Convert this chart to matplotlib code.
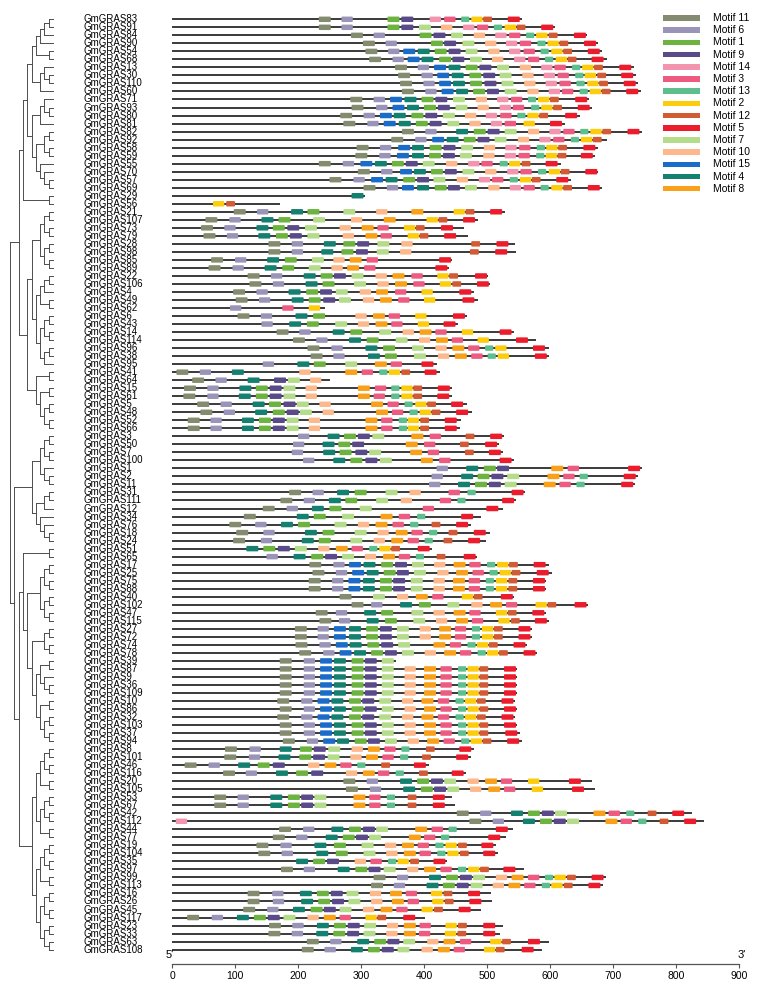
import matplotlib
matplotlib.use('Agg')
import matplotlib.pyplot as plt
from matplotlib.patches import Rectangle, FancyBboxPatch
from matplotlib.transforms import blended_transform_factory

plt.rcParams['font.family'] = ['Liberation Sans', 'DejaVu Sans']

# gene order (top to bottom), protein lengths and motif sites "motif:start"
gene_ids = [83, 91, 84, 90, 54, 68, 13, 30, 110, 60, 71, 93, 80, 81, 82, 92, 58, 59,
            55, 70, 57, 69, 29, 56, 21, 107, 73, 79, 28, 98, 85, 89, 22, 106, 4, 49,
            62, 6, 43, 14, 114, 96, 38, 95, 41, 64, 15, 61, 5, 48, 52, 66, 3, 50, 7,
            100, 1, 2, 11, 31, 111, 12, 34, 76, 18, 24, 51, 65, 17, 25, 75, 88, 40,
            102, 47, 115, 27, 72, 74, 78, 39, 87, 9, 36, 109, 10, 86, 32, 103, 37, 94,
            8, 101, 46, 116, 20, 105, 53, 67, 42, 112, 44, 77, 19, 104, 35, 97, 99,
            113, 16, 26, 45, 117, 23, 33, 63, 108]

lengths = [555, 608, 659, 676, 683, 690, 733, 737, 740, 745, 662, 667, 647, 624, 746,
           691, 676, 672, 617, 676, 634, 682, 306, 171, 528, 485, 464, 470, 545, 546,
           445, 440, 502, 505, 479, 485, 243, 469, 454, 543, 577, 598, 599, 421, 425,
           250, 445, 445, 469, 476, 458, 457, 527, 519, 526, 543, 746, 739, 735, 561,
           546, 526, 490, 475, 505, 498, 412, 484, 599, 603, 593, 593, 543, 660, 593,
           598, 571, 571, 564, 580, 356, 548, 548, 548, 548, 544, 548, 544, 548, 552,
           555, 479, 475, 408, 467, 666, 672, 445, 449, 826, 845, 541, 530, 514, 517,
           436, 558, 689, 684, 506, 508, 491, 402, 526, 520, 598, 587]

sites = [
    "11:233 6:269 1:342 9:364 14:409 3:432 13:459 2:475 12:494 5:533",
    "11:233 6:269 1:342 9:364 7:392 10:427 14:462 3:484 13:511 2:528 12:547 5:586",
    "11:284 6:320 1:393 9:415 7:443 10:479 14:513 3:535 13:562 2:578 12:598 5:638",
    "11:303 6:339 1:411 9:432 7:461 10:497 14:530 3:552 13:580 2:596 12:615 5:654",
    "11:307 6:343 15:367 4:390 1:417 9:439 7:466 10:502 14:535 3:558 13:585 2:602 12:621 5:660",
    "11:313 6:350 15:374 4:396 1:424 9:445 7:473 10:508 14:543 3:565 13:592 2:609 12:628 5:666",
    "11:354 6:390 15:416 4:439 1:466 9:488 7:516 10:552 14:586 3:607 13:635 2:651 12:670 5:710",
    "11:359 6:396 15:421 4:444 1:472 9:494 7:520 10:556 14:590 3:612 13:640 2:655 12:675 5:713",
    "11:362 6:399 15:424 4:446 1:473 9:496 7:523 10:559 14:593 3:615 13:642 2:659 12:678 5:717",
    "11:365 6:402 15:428 4:451 1:478 9:500 7:528 10:564 14:598 3:619 13:647 2:663 12:682 5:721",
    "11:283 6:320 15:346 4:369 1:396 9:418 7:446 10:482 14:516 3:538 13:565 2:581 12:600 5:640",
    "11:285 6:324 15:350 4:373 1:400 9:422 7:450 10:485 14:520 3:541 13:570 2:586 12:605 5:644",
    "11:267 6:304 15:330 4:352 1:380 9:402 7:430 10:465 14:498 3:521 13:548 2:564 12:583 5:624",
    "11:272 6:310 15:336 4:360 1:387 9:409 7:437 10:472 14:506 3:528 2:558 5:600",
    "11:365 6:402 4:451 1:479 9:501 7:528 10:565 14:599 3:621 13:648 2:664 12:683 5:723",
    "11:348 6:386 15:413 4:436 1:463 9:485 7:512 10:549 14:583 3:605 13:633 2:649 12:668",
    "11:293 6:330 15:359 4:381 1:409 9:431 7:459 10:495 14:529 3:551 13:579 2:594 12:613 5:653",
    "11:291 6:329 15:357 4:381 1:408 9:430 7:457 10:494 14:528 3:550 13:578 2:593 12:612 5:649",
    "11:233 6:271 15:299 4:322 1:349 9:371 7:398 10:435 14:470 3:491 13:520 2:535 12:555 5:593",
    "11:295 6:332 15:362 4:384 1:411 9:433 7:461 10:497 14:532 3:553 13:581 2:598 12:617 5:656",
    "11:250 6:288 15:316 4:339 1:367 9:389 7:415 10:452 14:487 3:508 13:536 2:552 12:571 5:610",
    "11:304 6:341 15:365 4:389 1:417 9:438 7:465 10:502 14:536 3:558 13:585 2:602 12:621 5:660",
    "4:285",
    "2:65 12:86",
    "11:98 6:135 4:189 1:215 7:272 10:324 8:380 2:447 12:466 5:505",
    "11:53 6:91 4:142 1:169 7:224 10:284 8:336 2:404 12:423 5:462",
    "11:46 6:83 4:134 1:160 9:183 7:211 10:266 8:301 3:326 2:368 12:387 5:427",
    "11:50 6:87 4:137 1:165 9:187 7:215 10:271 8:307 3:331 2:374 12:393 5:432",
    "11:153 6:190 4:241 1:272 9:294 7:326 10:364 12:475 5:515",
    "11:153 6:190 4:237 1:269 9:292 7:325 10:362 12:473 5:513",
    "11:62 6:100 4:151 1:179 7:222 10:256 8:282 3:309 5:424",
    "11:58 6:96 4:147 1:175 7:217 10:253 8:278 3:305 5:418",
    "11:120 6:157 4:209 1:236 9:257 7:285 10:323 8:350 3:380 2:421 12:440 5:481",
    "11:123 6:160 4:212 1:239 7:289 10:326 8:354 3:383 2:425 12:445 5:484",
    "11:97 6:134 4:185 1:213 9:235 7:260 10:298 8:324 3:354 2:396 5:456",
    "11:101 6:138 4:190 1:217 9:240 7:265 10:303 8:330 3:359 2:400 5:461",
    "6:92 3:175 2:217",
    "11:104 6:141 4:196 1:224 10:291 8:319 3:344 2:386 5:446",
    "6:142 4:186 1:214 7:259 10:295 8:323 3:348 2:390 5:431",
    "11:166 6:202 4:255 1:283 7:329 10:366 8:393 3:418 2:460 5:520",
    "11:192 6:229 4:281 1:309 7:355 10:392 8:419 3:444 2:485 5:546",
    "11:215 6:253 4:307 1:335 7:381 10:418 8:445 3:470 13:497 2:513 5:573",
    "11:220 6:256 4:311 1:338 7:384 10:422 8:449 3:475 13:501 2:517 5:576",
    "6:144 4:199 1:225 7:275 8:322 3:347 5:396",
    "11:7 6:44 4:95 10:202 8:275 3:301 13:329 2:344 12:364 5:401",
    "11:32 6:69 4:120 9:162 7:184 10:219",
    "11:19 6:56 4:107 1:133 9:155 7:177 10:212 8:295 3:322 13:348 2:364 12:383 5:422",
    "11:18 6:56 4:106 1:133 9:155 7:177 10:212 8:295 3:320 13:348 2:364 12:383 5:421",
    "11:40 6:77 4:128 1:154 9:177 7:198 10:234 8:316 3:342 13:369 2:386 12:405 5:443",
    "11:45 6:82 4:132 1:160 9:182 7:203 10:239 8:324 3:349 13:377 2:393 12:412 5:451",
    "11:25 6:61 4:111 1:138 9:160 7:182 10:217 8:307 3:332 13:360 2:374 12:394 5:433",
    "11:25 6:61 4:111 1:138 9:160 7:182 10:217 8:307 3:332 13:360 2:374 12:394 5:433",
    "6:200 4:247 1:273 9:295 7:318 8:380 3:409 12:466 5:505",
    "6:192 4:239 1:264 9:286 8:371 3:400 12:457 5:497",
    "6:190 4:240 1:266 9:291 7:313 8:378 3:406 12:465 5:503",
    "6:208 4:256 1:283 9:307 7:330 8:395 3:424 5:520",
    "6:420 4:467 1:495 9:516 8:602 3:628 5:724",
    "6:412 4:459 1:485 9:507 7:532 8:596 3:621 13:647 5:717",
    "6:408 4:454 1:481 9:503 7:528 8:590 3:615 13:642 5:713",
    "11:186 6:223 4:262 1:290 7:339 10:377 3:439 13:469 5:539",
    "11:172 6:209 4:249 1:275 7:324 10:363 3:425 13:453 5:524",
    "11:144 6:182 4:222 1:250 7:298 3:398 5:499",
    "11:114 4:198 1:225 7:270 8:331 3:360 13:389 5:459",
    "11:91 6:132 4:173 1:200 7:258 10:295 8:323 3:350 13:378 12:412 5:451",
    "11:102 6:145 4:211 1:239 7:290 10:326 8:355 3:380 13:408 12:439 5:479",
    "11:97 6:141 4:206 1:233 7:283 10:320 8:348 3:374 13:401 12:431 5:470",
    "4:118 1:145 9:168 7:195 10:232 8:260 3:285 13:313 2:329 12:348 5:390",
    "6:150 4:193 1:221 9:243 7:270 10:306 8:335 3:360 13:387 12:420 5:463",
    "11:218 6:256 15:281 4:304 1:332 9:354 7:381 10:416 8:447 3:472 13:500 2:516 12:535 5:574",
    "11:223 6:260 15:286 4:309 1:336 9:357 7:384 10:421 8:451 3:477 13:504 2:520 12:539 5:579",
    "11:217 6:254 15:280 4:303 1:330 9:351 7:379 10:415 8:446 3:471 13:498 2:514 12:534 5:573",
    "11:217 6:254 15:280 4:303 1:330 9:351 7:379 10:415 8:446 3:471 13:498 2:514 12:534 5:573",
    "11:266 7:319 10:357 8:387 3:413 2:460 12:479 5:522",
    "11:285 6:316 4:362 1:392 7:437 10:475 8:505 3:530 2:577 12:596 5:639",
    "11:228 6:260 4:305 1:332 7:380 10:415 8:447 3:472 2:514 12:533 5:572",
    "11:234 6:265 4:309 1:338 7:383 10:419 8:451 3:476 2:518 12:538 5:576",
    "11:195 6:231 15:257 4:281 1:308 9:330 7:357 10:393 8:424 3:449 13:476 2:492 12:511 5:550",
    "11:195 6:231 15:257 4:281 1:308 9:330 7:357 10:393 8:424 3:449 13:476 2:492 12:511 5:550",
    "11:196 6:234 15:260 4:282 1:310 9:332 7:359 8:415 3:441 13:469 2:484 12:503 5:542",
    "11:202 6:240 15:266 4:289 1:316 9:338 7:365 10:401 8:432 3:457 13:485 2:500 12:519 5:558",
    "11:171 6:209 15:235 4:257 1:285 9:306 7:333",
    "11:171 6:209 15:235 4:257 1:285 9:306 7:333 10:369 8:400 3:426 13:454 2:469 12:488 5:527",
    "11:171 6:209 15:235 4:257 1:285 9:306 7:333 10:369 8:400 3:426 13:454 2:469 12:488 5:527",
    "11:171 6:209 15:235 4:257 1:285 9:306 7:333 10:369 8:400 3:426 13:454 2:469 12:488 5:527",
    "11:171 6:209 15:235 4:257 1:285 9:306 7:333 10:369 8:400 3:426 13:454 2:469 12:488 5:527",
    "11:167 6:205 15:231 4:253 1:281 9:302 7:329 10:365 8:396 3:422 13:450 2:465 12:484 5:523",
    "11:171 6:209 15:235 4:257 1:285 9:306 7:333 10:369 8:400 3:426 13:454 2:469 12:488 5:527",
    "11:167 6:205 15:231 4:253 1:281 9:302 7:329 10:365 8:396 3:422 13:450 2:465 12:484 5:523",
    "11:171 6:209 15:235 4:257 1:285 9:306 7:333 10:369 8:400 3:426 13:454 2:469 12:488 5:527",
    "11:171 6:209 15:235 4:257 1:285 9:306 7:333 10:369 8:400 3:426 13:454 2:469 12:488 5:529",
    "11:176 6:214 15:240 4:262 1:290 9:311 7:338 10:374 8:405 3:431 13:459 2:474 12:493 5:532",
    "11:84 6:123 4:171 1:203 9:225 7:248 10:285 8:311 3:337 13:364 12:403 5:456",
    "11:83 6:122 4:169 1:202 9:224 7:247 10:283 8:308 3:334 13:362 12:397 5:451",
    "11:20 6:58 4:105 1:136 9:160 10:216 8:242 3:267 13:294 12:332 5:384",
    "11:81 6:117 4:165 1:197 9:221 10:276 8:303 3:327 13:355 12:392 5:444",
    "11:272 6:309 4:362 1:389 9:411 7:432 10:469 8:497 3:522 2:565 5:630",
    "11:276 6:314 4:367 1:395 9:416 7:437 10:473 8:502 3:527 2:571 5:635",
    "11:67 6:104 4:156 1:184 9:205 7:226 8:288 3:313 13:341 12:374 5:414",
    "11:67 6:104 4:156 1:184 9:205 7:226 8:288 3:313 13:341 12:374 5:414",
    "11:452 6:489 4:538 1:565 9:587 7:608 8:669 3:693 13:721 12:755 5:794",
    "14:6 11:472 6:509 4:557 1:584 9:606 7:627 8:688 3:712 13:740 12:774 5:813",
    "11:170 6:208 4:253 1:281 9:303 7:324 8:386 3:412 13:439 5:514",
    "11:160 6:197 4:244 1:271 9:292 7:313 8:376 3:400 13:427 5:502",
    "11:134 6:172 4:226 1:257 7:301 10:338 8:365 3:390 13:418 2:434 12:454 5:491",
    "11:137 6:174 4:229 1:260 7:304 10:340 8:368 3:393 13:421 2:437 12:457 5:494",
    "4:197 1:224 9:246 10:290 3:315 13:343 2:358 12:378 5:415",
    "11:173 6:209 4:263 1:291 9:312 7:336 10:373 8:400 3:426 13:454 2:470 12:489 5:526",
    "11:320 6:357 4:408 1:435 9:457 7:478 10:514 8:539 3:565 13:592 2:607 12:627 5:666",
    "11:316 6:352 4:404 1:430 9:452 7:474 10:509 8:534 3:559 13:587 2:602 12:622 5:661",
    "11:120 6:159 4:203 1:230 9:252 7:277 10:314 8:346 3:371 2:411 12:431 5:470",
    "11:120 6:160 4:205 1:232 9:254 7:280 10:316 8:349 3:374 2:413 12:433 5:472",
    "11:113 6:151 4:192 1:220 9:241 7:266 10:303 8:331 3:356 2:396 12:416 5:455",
    "11:24 6:63 4:103 1:130 9:152 7:177 10:215 8:241 3:266 2:307 12:326 5:367",
    "11:154 6:191 4:230 1:257 9:279 7:305 10:341 8:368 3:393 2:434 12:454 5:494",
    "11:153 6:190 4:229 1:256 9:278 7:304 10:340 8:368 3:392 2:433 12:453 5:494",
    "11:214 6:251 4:294 1:321 9:342 7:367 10:405 8:431 3:457 2:505 12:524 5:565",
    "11:206 6:242 4:284 1:311 9:333 7:358 10:396 8:422 3:447 2:495 12:514 5:555",
]

legend_order = [11, 6, 1, 9, 14, 3, 13, 2, 12, 5, 7, 10, 15, 4, 8]
motif_colors = {11: '#838c6e', 6: '#9a94b9', 1: '#6db33f', 9: '#5a4a8a',
                14: '#f395ae', 3: '#ee5b80', 13: '#5dbf8e', 2: '#fdcc0d',
                12: '#d25b36', 5: '#ec1c2c', 7: '#b4dc8a', 10: '#fdb98b',
                15: '#1b6cc8', 4: '#14806f', 8: '#f9a11b'}
motif_widths = {11: 19, 6: 18, 1: 19, 9: 19, 14: 18, 3: 18, 13: 13, 2: 18,
                12: 14, 5: 19, 7: 19, 10: 18, 15: 19, 4: 19, 8: 19}

clade_1 = (((((83, 91), 84), 90), (54, 68)), ((13, (30, 110)), 60))
clade_2 = (((71, (93, 80)), 81), (((82, 92), (58, 59)), (55, (70, (57, 69)))))
clade_3 = ((((21, 107), (73, 79)), ((28, 98), (85, 89))),
           ((((22, 106), 4), (49, 62)), (((6, 43), (14, 114)), ((96, 38), 95))))
clade_4 = ((41, 64), ((15, 61), ((5, 48), (52, 66))))
clade_5 = ((((3, 50), (7, 100)), (1, (2, 11))), (((31, 111), 12), (34, (76, (18, 24)))))
clade_6 = ((51, 65), ((((17, 25), (75, 88)), ((40, 102), (47, 115))),
                      (((27, 72), (74, 78)),
                       (((39, 87), (9, (36, 109))), ((10, 86), ((32, 103), (37, 94)))))))
clade_7 = ((((8, 101), (46, 116)), (20, 105)), (((53, 67), (42, 112)), (44, 77)))
clade_8 = ((((19, 104), (35, 97)), (99, 113)), (((16, 26), (45, 117)), ((23, 33), (63, 108))))
tree = ((((clade_1, clade_2), (29, 56)), (clade_3, clade_4)),
        (clade_5, (clade_6, (clade_7, clade_8))))

W, H = 767, 993
fig = plt.figure(figsize=(W / 100, H / 100), dpi=100)
row0, drow = 19.3, 8.02
ax = fig.add_axes([172 / W, (H - 964) / H, 567 / W, (964 - 10) / H])
ax.set_xlim(0, 900)
ax.set_ylim((964 - row0) / drow, (10 - row0) / drow)
# ratio of one pixel in y units to one pixel in x units, for round corners
aspect = (1 / drow) / (900 / 567)

for i, (length, s) in enumerate(zip(lengths, sites)):
    ax.plot([0, length], [i, i], color='#2b2b2b', lw=1.3, solid_capstyle='butt', zorder=1)
    for item in s.split():
        m, start = (int(v) for v in item.split(':'))
        ax.add_patch(FancyBboxPatch((start, i - 0.34), motif_widths[m], 0.68,
                                    boxstyle='round,pad=0,rounding_size=1.4',
                                    mutation_aspect=aspect,
                                    facecolor=motif_colors[m], edgecolor='none',
                                    zorder=2))

for side in ('top', 'right', 'left'):
    ax.spines[side].set_visible(False)
ax.spines['bottom'].set_color('#555555')
ax.spines['bottom'].set_linewidth(0.9)
ax.set_yticks([])
ax.set_xticks(range(0, 901, 100))
ax.tick_params(axis='x', labelsize=7.5, length=3, width=0.8, color='#555555', pad=2)
ax.text(-4, 117.3, "5'", fontsize=8, ha='center', va='bottom')
ax.text(904, 117.3, "3'", fontsize=8, ha='center', va='bottom')

# tree and labels in figure-x / row-y coordinates
tr = blended_transform_factory(fig.transFigure, ax.transData)
row_of = {g: i for i, g in enumerate(gene_ids)}
for g, i in row_of.items():
    ax.text(83 / W, i, f'GmGRAS{g}', transform=tr, fontsize=7, ha='left',
            va='center', clip_on=False)


def height(node):
    if isinstance(node, int):
        return 0
    return 1 + max(height(c) for c in node)


tip_x, root_x = 53, 10
step = (tip_x - root_x) / height(tree)


def draw(node):
    if isinstance(node, int):
        return row_of[node], tip_x
    kids = [draw(c) for c in node]
    x = tip_x - step * height(node)
    ys = [k[0] for k in kids]
    for ky, kx in kids:
        ax.plot([x / W, kx / W], [ky, ky], transform=tr, color='#4d4d4d',
                lw=0.7, clip_on=False)
    ax.plot([x / W, x / W], [min(ys), max(ys)], transform=tr, color='#4d4d4d',
            lw=0.7, clip_on=False)
    return (min(ys) + max(ys)) / 2, x


draw(tree)

# legend
for k, m in enumerate(legend_order):
    yc = 18 + 12.2 * k
    fig.add_artist(Rectangle((663 / W, 1 - (yc + 2.7) / H), 37 / W, 5.4 / H,
                             transform=fig.transFigure, facecolor=motif_colors[m],
                             edgecolor='none'))
    fig.text(713 / W, 1 - yc / H, f'Motif {m}', fontsize=7.5, va='center', ha='left')

fig.savefig('out.png', dpi=100)
